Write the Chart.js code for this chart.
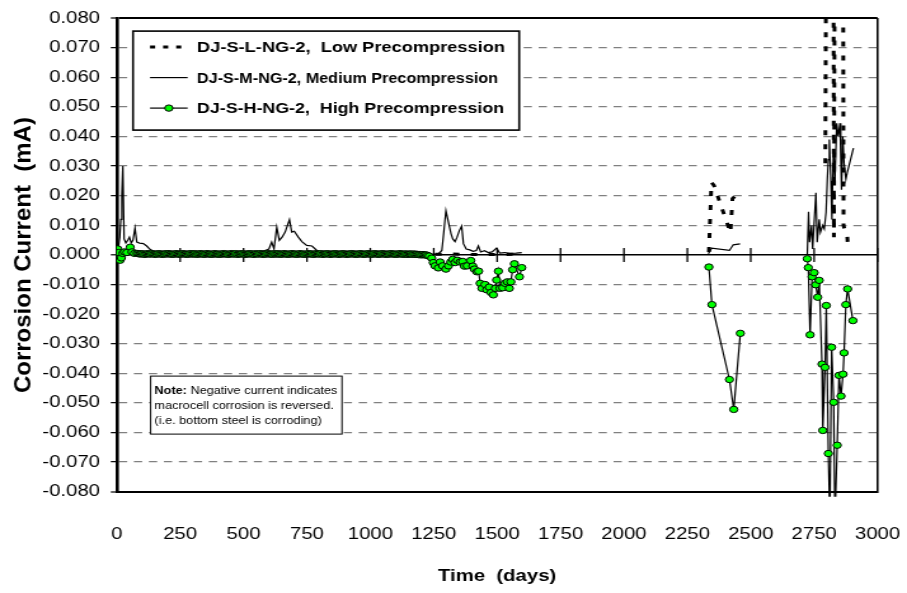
<!DOCTYPE html>
<html><head><meta charset="utf-8">
<script src="https://cdn.jsdelivr.net/npm/chart.js@4.4.0/dist/chart.umd.min.js"></script>
<style>
html,body{margin:0;padding:0;background:#fff;overflow:hidden;}
#wrap{width:714px;height:593px;transform:scaleX(1.2703);transform-origin:0 0;}
canvas{display:block;}
</style></head><body>
<div id="wrap"><canvas id="c" width="714" height="593" style="width:714px;height:593px"></canvas></div>
<script>
const seriesLabels = ['DJ-S-L-NG-2,  Low Precompression','DJ-S-M-NG-2, Medium Precompression','DJ-S-H-NG-2,  High Precompression'];
const xTitle = 'Time  (days)';
const yTitle = 'Corrosion Current  (mA)';
const noteLines = [['Note:',' Negative current indicates'],'macrocell corrosion is reversed.','(i.e. bottom steel is corroding)'];
const xTickValues = [0,250,500,750,1000,1250,1500,1750,2000,2250,2500,2750,3000];
const xTickLabels = ['0','250','500','750','1000','1250','1500','1750','2000','2250','2500','2750','3000'];
const yTickValues = [-0.08,-0.07,-0.06,-0.05,-0.04,-0.03,-0.02,-0.01,0,0.01,0.02,0.03,0.04,0.05,0.06,0.07,0.08];
const yTickLabels = ['-0.080','-0.070','-0.060','-0.050','-0.040','-0.030','-0.020','-0.010','0.000','0.010','0.020','0.030','0.040','0.050','0.060','0.070','0.080'];

const lowDays = [3,15,30,60,100,150,200,300,400,500,600,700,800,900,1000,1100,1200,1260,1320,1380,1440,1500,1560,1600,2000,2335,2345,2355,2420,2428,2452,2600,2794,2798,2826,2828,2832,2864,2866,2872,2880,2884];
const lowValues = [0.000,0.001,0.0005,0.0003,0.0002,0.0001,0.0001,0.0001,0.0001,0.0000,0.0002,0.0003,0.0001,0.0000,0.0000,0.0000,0.0000,0.0002,0.0003,0.0002,0.0001,0.0001,0.0002,0.0001,null,0.001,0.0245,0.0235,0.0075,0.019,0.021,null,0.031,0.12,0.12,0.006,0.12,0.12,0.010,0.008,0.007,0.002];

const medDays = [2,6,12,16,20,24,29,36,44,50,57,64,72,79,90,105,118,131,150,175,200,250,300,350,400,450,500,550,585,600,611,620,631,641,652,664,681,690,700,716,730,749,770,789,810,850,900,950,1000,1050,1100,1150,1200,1250,1270,1282,1290,1298,1311,1318,1325,1334,1342,1351,1360,1367,1378,1392,1405,1418,1426,1435,1450,1465,1480,1498,1510,1530,1550,1575,1597,2000,2333,2346,2416,2431,2458,2600,2723,2728,2732,2740,2744,2757,2762,2770,2775,2784,2790,2797,2802,2806,2810,2816,2820,2826,2832,2839,2845,2852,2855,2858,2863,2868,2875,2881,2905];
const medValues = [0.000,0.002,0.006,0.012,0.020,0.030,0.0054,0.004,0.005,0.006,0.004,0.005,0.009,0.0043,0.004,0.0038,0.003,0.0019,0.001,0.0006,0.0005,0.0004,0.0004,0.0005,0.0004,0.0004,0.0005,0.0008,0.0015,0.002,0.0043,0.002,0.0093,0.0049,0.006,0.0077,0.0119,0.0077,0.008,0.006,0.0045,0.0032,0.003,0.0015,0.0008,0.0005,0.0004,0.0004,0.0003,0.0003,0.0003,0.0003,0.0003,0.0002,0.0005,0.0015,0.008,0.0149,0.0099,0.0072,0.0054,0.0045,0.006,0.0082,0.0097,0.0038,0.002,0.0017,0.0012,0.0015,0.003,0.001,0.0014,0.0008,0.001,0.0023,0.0006,0.0008,0.0005,0.0006,0.0008,null,0.0004,0.0023,0.0015,0.0034,0.0037,null,0.000,0.0146,0.0043,0.0099,0.002,0.021,0.0043,0.012,0.0077,0.010,0.0088,0.0144,0.0255,0.0322,0.039,0.025,0.012,0.0356,0.025,0.0445,0.040,0.0445,0.033,0.022,0.040,0.031,0.0255,0.028,0.0361];

const highDays = [2,4,8,13,18,24,30,40,53,60,70,
80,86,92,98,104,110,116,122,128,134,
140,146,152,158,164,170,176,182,188,194,
200,206,212,218,224,230,236,242,248,254,
260,266,272,278,284,290,296,302,308,314,
320,326,332,338,344,350,356,362,368,374,
380,386,392,398,404,410,416,422,428,434,
440,446,452,458,464,470,476,482,488,494,
500,506,512,518,524,530,536,542,548,554,
560,566,572,578,584,590,596,602,608,614,
620,626,632,638,644,650,656,662,668,674,
680,686,692,698,704,710,716,722,728,734,
740,746,752,758,764,770,776,782,788,794,
800,806,812,818,824,830,836,842,848,854,
860,866,872,878,884,890,896,902,908,914,
920,926,932,938,944,950,956,962,968,974,
980,986,992,998,1004,1010,1016,1022,1028,1034,
1040,1046,1052,1058,1064,1070,1076,1082,1088,1094,
1100,1106,1112,1118,1124,1130,1136,1142,1148,1154,
1160,1166,1172,1178,1184,1190,1196,1202,1208,1214,
1220,1226,1232,
1242,1248,1255,1268,1275,1285,1298,1308,1317,1325,1334,1343,1354,1364,1371,1382,1396,1404,1410,1420,1427,1433,1440,1452,1459,1469,1476,1485,1493,1498,1505,1511,1522,1531,1540,1548,1554,1561,1568,1588,1597,
2000,2335,2347,2416,2433,2459,2600,
2723,2727,2734,2742,2750,2756,2764,2770,2781,2784,2793,2798,2806,2812,2819,2827,2832,2841,2848,2856,2864,2868,2875,2882,2903];
const highValues = [-0.0005,0.002,0.0008,-0.0018,-0.001,0.0005,0.001,0.0008,0.0026,0.001,0.0005,
0.0005,0.0004,0.0003,0.0004,0.0003,0.0002,0.0003,0.0004,0.0003,0.0003,
0.0004,0.0003,0.0002,0.0003,0.0004,0.0003,0.0003,0.0002,0.0003,0.0004,
0.0003,0.0004,0.0003,0.0002,0.0003,0.0003,0.0004,0.0003,0.0002,0.0003,
0.0004,0.0003,0.0003,0.0002,0.0003,0.0004,0.0003,0.0003,0.0004,0.0002,
0.0003,0.0003,0.0004,0.0003,0.0002,0.0003,0.0004,0.0003,0.0003,0.0002,
0.0003,0.0004,0.0003,0.0003,0.0002,0.0003,0.0003,0.0004,0.0003,0.0003,
0.0002,0.0003,0.0004,0.0003,0.0003,0.0004,0.0002,0.0003,0.0003,0.0004,
0.0003,0.0002,0.0003,0.0003,0.0004,0.0003,0.0003,0.0002,0.0004,0.0003,
0.0003,0.0004,0.0003,0.0002,0.0003,0.0003,0.0004,0.0003,0.0003,0.0002,
0.0004,0.0003,0.0003,0.0004,0.0002,0.0003,0.0003,0.0004,0.0003,0.0002,
0.0003,0.0003,0.0004,0.0003,0.0003,0.0002,0.0003,0.0004,0.0003,0.0003,
0.0002,0.0003,0.0003,0.0004,0.0003,0.0003,0.0002,0.0003,0.0004,0.0003,
0.0003,0.0004,0.0002,0.0003,0.0003,0.0004,0.0003,0.0002,0.0003,0.0003,
0.0004,0.0003,0.0003,0.0002,0.0003,0.0004,0.0003,0.0003,0.0002,0.0003,
0.0003,0.0004,0.0003,0.0003,0.0002,0.0003,0.0003,0.0004,0.0003,0.0002,
0.0003,0.0003,0.0004,0.0003,0.0002,0.0003,0.0004,0.0003,0.0003,0.0002,
0.0003,0.0004,0.0003,0.0003,0.0002,0.0003,0.0003,0.0004,0.0003,0.0003,
0.0002,0.0003,0.0003,0.0004,0.0003,0.0002,0.0003,0.0003,0.0002,0.0003,
0.0003,0.0002,0.0003,0.0002,0.0002,0.0001,0.0001,0.0000,0.0001,0.0000,
0.0000,-0.0002,-0.0004,
-0.0011,-0.0026,-0.0037,-0.0044,-0.0024,-0.0037,-0.0048,-0.0037,-0.0024,-0.0015,-0.0026,-0.0018,-0.0024,-0.0022,-0.0038,-0.0037,-0.0019,-0.0038,-0.0048,-0.0057,-0.0055,-0.0096,-0.0113,-0.0100,-0.0118,-0.0109,-0.0127,-0.0135,-0.0113,-0.0085,-0.0055,-0.0113,-0.0111,-0.0096,-0.0091,-0.0113,-0.0091,-0.0050,-0.0030,-0.0074,-0.0043,
null,-0.0041,-0.0168,-0.0421,-0.0522,-0.0265,null,
-0.0013,-0.0043,-0.0270,-0.0074,-0.0060,-0.0101,-0.0143,-0.0086,-0.0369,-0.0593,-0.0380,-0.0171,-0.0671,-0.0900,-0.0312,-0.0498,-0.0900,-0.0643,-0.0407,-0.0477,-0.0403,-0.0331,-0.0168,-0.0115,-0.0222];

const legendWidths = [242.5, 237, 241.7];
const STRETCH = 1.2703;
const FONT = '"Liberation Sans", Arial, sans-serif';
const pts = (d, v) => d.map((x, i) => ({x: x, y: v[i]}));

const zeroTicks = {
  id: 'zeroTicks',
  beforeDatasetsDraw(chart) {
    const xs = chart.scales.x, ys = chart.scales.y, ctx = chart.ctx;
    const y0 = ys.getPixelForValue(0);
    ctx.save(); ctx.strokeStyle = '#000'; ctx.lineWidth = 1.3;
    xs.ticks.forEach(t => { const px = xs.getPixelForValue(t.value); ctx.beginPath(); ctx.moveTo(px, y0 - 7); ctx.lineTo(px, y0 + 7); ctx.stroke(); });
    ctx.restore();
  }
};

const yTitlePlugin = {
  id: 'yTitle',
  afterDraw(chart) {
    const ctx = chart.ctx, a = chart.chartArea;
    ctx.save();
    ctx.translate(24.4, a.top + 237);
    ctx.scale(1 / STRETCH, 1);
    ctx.rotate(-Math.PI / 2);
    ctx.fillStyle = '#000'; ctx.font = 'bold 24px ' + FONT;
    ctx.textAlign = 'center'; ctx.textBaseline = 'alphabetic';
    ctx.fillText(yTitle, 0, 0);
    ctx.restore();
  }
};

const boxLegend = {
  id: 'boxLegend',
  afterDraw(chart) {
    const ctx = chart.ctx, a = chart.chartArea;
    const bx = a.left + 12.8, by = a.top + 13, bw = 304, bh = 99;
    ctx.save();
    ctx.fillStyle = '#fff'; ctx.fillRect(bx, by, bw, bh);
    ctx.lineWidth = 1.6; ctx.strokeStyle = '#000'; ctx.strokeRect(bx, by, bw, bh);
    chart.data.datasets.forEach((ds, i) => {
      const y = by + 16 + i * 30.5, x0 = bx + 13.4, x1 = bx + 43;
      ctx.beginPath(); ctx.setLineDash(i === 0 ? [4, 6.3] : []); ctx.lineWidth = ds.borderWidth; ctx.strokeStyle = ds.borderColor;
      ctx.moveTo(x0, y); ctx.lineTo(x1, y); ctx.stroke(); ctx.setLineDash([]);
      if (ds.pointRadius > 0) {
        ctx.beginPath(); ctx.arc((x0 + x1) / 2, y, ds.pointRadius, 0, Math.PI * 2);
        ctx.fillStyle = ds.pointBackgroundColor; ctx.fill(); ctx.lineWidth = ds.pointBorderWidth; ctx.strokeStyle = ds.pointBorderColor; ctx.stroke();
      }
      ctx.fillStyle = '#000'; ctx.font = 'bold 15px ' + FONT; ctx.textBaseline = 'middle';
      ctx.fillText(ds.label, bx + 50.4, y + 1, legendWidths[i]);
    });
    ctx.restore();
  }
};

const notePlugin = {
  id: 'note',
  afterDraw(chart) {
    const ctx = chart.ctx, a = chart.chartArea;
    const x = a.left + 26.7, y = a.top + 358, w = 150.6, h = 58;
    ctx.save();
    ctx.fillStyle = '#fff'; ctx.fillRect(x, y, w, h);
    ctx.strokeStyle = '#000'; ctx.lineWidth = 1; ctx.strokeRect(x, y, w, h);
    ctx.fillStyle = '#000'; ctx.textBaseline = 'middle';
    ctx.font = 'bold 10px ' + FONT; ctx.fillText(noteLines[0][0], x + 3, y + 15);
    const bw = ctx.measureText(noteLines[0][0]).width;
    ctx.font = '10px ' + FONT; ctx.fillText(noteLines[0][1], x + 3 + bw, y + 15);
    ctx.fillText(noteLines[1], x + 3, y + 30); ctx.fillText(noteLines[2], x + 3, y + 45);
    ctx.restore();
  }
};

const isZero = v => Math.abs(v) < 1e-9;
const isEdge = v => Math.abs(Math.abs(v) - 0.08) < 1e-9;

new Chart(document.getElementById('c'), {
  type: 'line',
  data: {
    datasets: [
      {label: seriesLabels[0], data: pts(lowDays, lowValues), borderColor: '#000', borderWidth: 3, borderDash: [5, 9], pointRadius: 0, tension: 0, order: 3, spanGaps: false},
      {label: seriesLabels[1], data: pts(medDays, medValues), borderColor: '#000', borderWidth: 1.2, pointRadius: 0, tension: 0, order: 2, spanGaps: false},
      {label: seriesLabels[2], data: pts(highDays, highValues), borderColor: '#000', borderWidth: 1.2, pointRadius: 3.2, pointBackgroundColor: '#00ff00', pointBorderColor: '#000', pointBorderWidth: 1, tension: 0, order: 1, spanGaps: false, clip: {left: 0, top: 0, right: 0, bottom: 5}}
    ]
  },
  options: {
    responsive: false, animation: false, events: [],
    layout: {padding: {left: 0, right: 23.2, top: 14, bottom: 0}},
    plugins: {legend: {display: false}, tooltip: {enabled: false}},
    scales: {
      x: {
        type: 'linear', position: 'bottom', min: 0, max: 3000,
        afterBuildTicks: s => { s.ticks = xTickValues.map(v => ({value: v})); },
        afterFit: s => { s.height = 101.3; },
        ticks: {callback: (v, i) => xTickLabels[i], color: '#000', font: {family: FONT, size: 16}, padding: 3, maxRotation: 0, autoSkip: false},
        grid: {drawTicks: true, tickLength: 30, tickColor: 'rgba(0,0,0,0)', color: c => (c.tick && c.tick.value === 3000) ? '#000' : 'rgba(0,0,0,0)', lineWidth: 1.6},
        border: {display: true, color: '#000', width: 2},
        title: {display: true, text: xTitle, color: '#000', font: {family: FONT, size: 16, weight: 'bold'}, padding: {top: 0, bottom: 7}}
      },
      y: {
        type: 'linear', min: -0.08, max: 0.08,
        afterBuildTicks: s => { s.ticks = yTickValues.map(v => ({value: v})); },
        afterFit: s => { s.width = 91.9; },
        ticks: {callback: (v, i) => yTickLabels[i], color: '#000', font: {family: FONT, size: 16}, padding: 8.5},
        grid: {
          drawTicks: true, tickLength: 4.7, tickColor: '#000', tickWidth: 1.2,
          color: c => (c.tick && (isZero(c.tick.value) || isEdge(c.tick.value))) ? '#000' : '#808080',
          lineWidth: c => (c.tick && isEdge(c.tick.value)) ? 2 : (c.tick && isZero(c.tick.value) ? 1.6 : 1.3)
        },
        border: {display: true, color: '#000', width: 2.6, dash: c => (c.tick && !isZero(c.tick.value) && !isEdge(c.tick.value)) ? [6.5, 5.3] : []},
        title: {display: false}
      }
    }
  },
  plugins: [zeroTicks, yTitlePlugin, boxLegend, notePlugin]
});
</script>
</body></html>
